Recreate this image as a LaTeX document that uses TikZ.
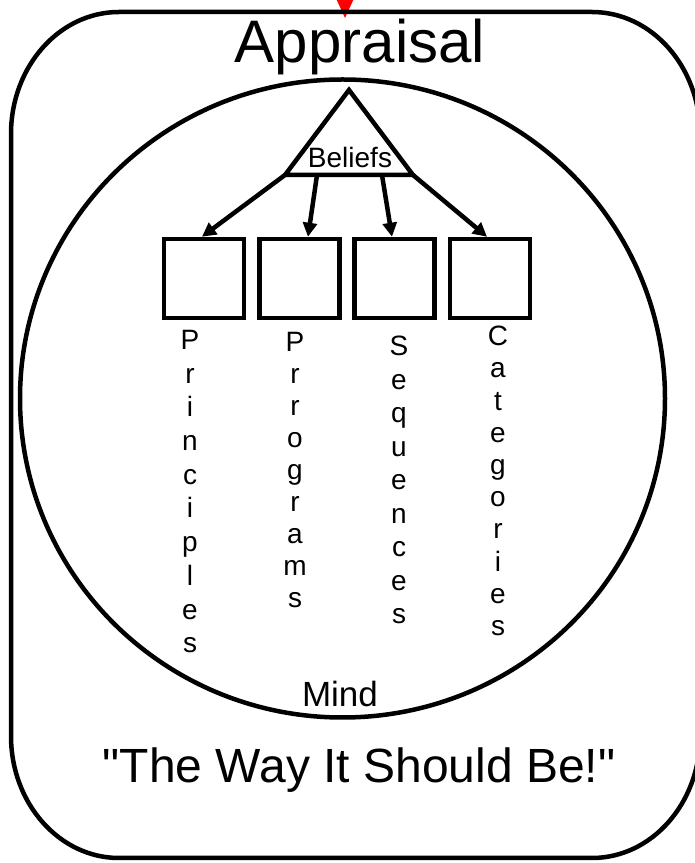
\documentclass[tikz,border=0pt]{standalone}
\usepackage{fontspec}
\setmainfont{Liberation Sans}[Ligatures=TeXOff]
\usetikzlibrary{arrows.meta,shapes.geometric}
\begin{document}
\begin{tikzpicture}[x=1pt,y=1pt,
  thickline/.style={line width=4.5pt},
  box/.style={draw, line width=4.5pt, minimum width=80pt, minimum height=79pt, inner sep=0pt},
  conn/.style={line width=4.5pt, -{Triangle[length=14pt,width=14pt]}},
  letters/.style={align=center, inner sep=0pt, anchor=north},
  lbl/.style={inner sep=0pt, anchor=base}]
\useasboundingbox (0,0) rectangle (695,863);
% incoming red arrow
\coordinate (feed) at (345,900);
\coordinate (entry) at (345,845);
\draw[red, line width=2pt, -{Triangle[length=18pt,width=16pt]}] (feed) -- (entry);
% outer rounded frame
\draw[thickline] (11,729) arc[start angle=180,end angle=90,x radius=108,y radius=122]
  -- (592,851) arc[start angle=90,end angle=0,x radius=108,y radius=122]
  -- (700,127) arc[start angle=0,end angle=-90,x radius=108,y radius=122]
  -- (119,5) arc[start angle=-90,end angle=-180,x radius=108,y radius=122] -- cycle;
% mind circle
\node[draw, thickline, ellipse, minimum width=645pt, minimum height=638pt, inner sep=0pt] (mind) at (342.5,464.5) {};
% triangle
\coordinate (ta) at (349,773);
\coordinate (tl) at (285,688);
\coordinate (tr) at (413,688);
\coordinate (s2) at (317,688);
\coordinate (s3) at (382,688);
\draw[thickline, line join=miter] (tl) -- (ta) -- (tr) -- cycle;
\node[lbl, font=\fontsize{28}{34}\selectfont] (beliefs) at (350,695) {Beliefs};
% boxes
\node[box] (b1) at (204,584.5) {};
\node[box] (b2) at (299.5,584.5) {};
\node[box] (b3) at (394.5,584.5) {};
\node[box] (b4) at (490,584.5) {};
% arrows
\draw[conn] (tl) -- ([xshift=-2pt]b1.north);
\draw[conn] (s2) -- ([xshift=8.5pt]b2.north);
\draw[conn] (s3) -- ([xshift=-2.5pt]b3.north);
\draw[conn] (tr) -- ([xshift=-3pt]b4.north);
% vertical labels
\node[letters, font=\fontsize{28}{33.7}\selectfont] (principles) at (190,533) {P\\r\\i\\n\\c\\i\\p\\l\\e\\s};
\node[letters, font=\fontsize{28}{32}\selectfont] (programs) at (295,531) {P\\r\\r\\o\\g\\r\\a\\m\\s};
\node[letters, font=\fontsize{28}{33.5}\selectfont] (sequences) at (399,527) {S\\e\\q\\u\\e\\n\\c\\e\\s};
\node[letters, font=\fontsize{28}{32.2}\selectfont] (categories) at (498,537) {C\\a\\t\\e\\g\\o\\r\\i\\e\\s};
% texts
\node[lbl, font=\fontsize{60}{72}\selectfont] (appraisal) at (360,800) {Appraisal};
\node[lbl, font=\fontsize{35}{42}\selectfont] (mindlabel) at (340,156) {Mind};
\node[lbl, font=\fontsize{48}{58}\selectfont] (motto) at (359,80) {"The Way It Should Be!"};
\end{tikzpicture}
\end{document}
